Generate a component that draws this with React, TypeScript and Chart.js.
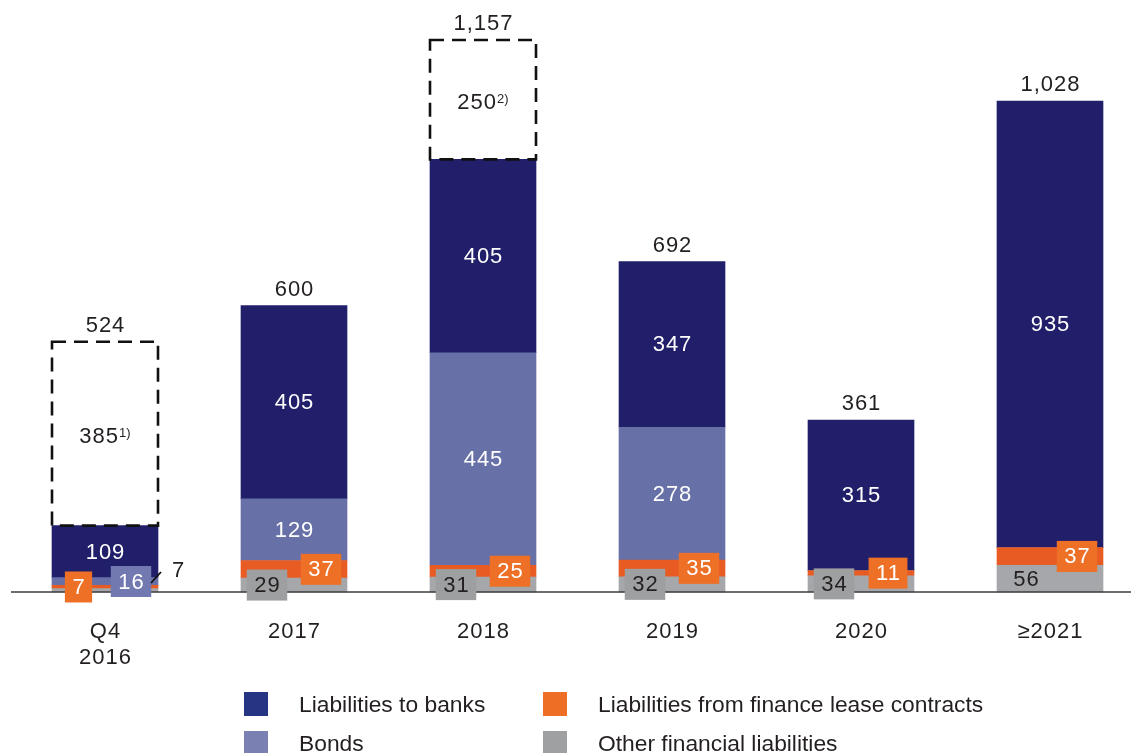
import React, { useEffect, useRef } from "react";
import { Chart, registerables } from "chart.js";

Chart.register(...registerables);

// ---- Data ----
const categories: (string | string[])[] = [["Q4", "2016"], "2017", "2018", "2019", "2020", "≥2021"];
const otherLiabilities = [7, 29, 31, 32, 34, 56];
const leaseLiabilities = [7, 37, 25, 35, 11, 37];
const bondValues = [16, 129, 445, 278, 0, 0];
const bankLiabilities = [109, 405, 405, 347, 315, 935];
const undrawnValues = [385, 0, 250, 0, 0, 0];
const undrawnNotes = ["1)", "", "2)", "", "", ""];
const totalLabels = ["524", "600", "1,157", "692", "361", "1,028"];
const seriesNames = [
  "Liabilities to banks",
  "Liabilities from finance lease contracts",
  "Bonds",
  "Other financial liabilities",
];

// ---- Styles ----
const FONT = '"Liberation Sans", Arial, Helvetica, sans-serif';
const TEXT_DARK = "#231f20";
const NAVY = "#211f69";
const BONDS = "#6770a7";
const LEASE = "#e85b23";
const OTHER = "#a6a7aa";
const LEASE_BOX = "#ee7027";
const OTHER_BOX = "#9d9fa0";
const BONDS_BOX = "#7179b0";
const LEGEND_COLORS = ["#263583", "#ee6e26", "#7a80b2", "#9ea0a1"];

function fmt(v: number) {
  return v.toLocaleString("en-US");
}

const labelPlugin = {
  id: "customLabels",
  afterDatasetsDraw(chart: any) {
    const ctx: any = chart.ctx;
    const area = chart.chartArea;
    const size = 22;
    ctx.save();

    // baseline
    ctx.strokeStyle = "#3c3c3c";
    ctx.lineWidth = 1.6;
    ctx.beginPath();
    ctx.moveTo(11, area.bottom);
    ctx.lineTo(chart.width, area.bottom);
    ctx.stroke();

    const setFont = (s: number) => {
      ctx.font = `${s}px ${FONT}`;
      ctx.letterSpacing = s >= 20 ? "1px" : "0px";
    };
    const text = (t: string, x: number, y: number, color: string, s = size) => {
      setFont(s);
      ctx.fillStyle = color;
      ctx.textAlign = "center";
      ctx.textBaseline = "middle";
      ctx.fillText(t, x + 0.5, y);
    };
    const box = (t: string, cx: number, cy: number, bg: string, fg: string) => {
      setFont(size);
      const w = ctx.measureText(t).width + 14;
      const h = 31;
      ctx.fillStyle = bg;
      ctx.fillRect(cx - w / 2, cy - h / 2, w, h);
      text(t, cx, cy + 1, fg);
    };
    const props = (ds: number, i: number) =>
      chart.getDatasetMeta(ds).data[i].getProps(["x", "y", "base", "width"], true);

    categories.forEach((cat, i) => {
      const o = props(0, i);
      const l = props(1, i);
      const b = props(2, i);
      const k = props(3, i);
      const u = props(4, i);
      const cx = o.x;

      // banks
      if (bankLiabilities[i] > 0) text(fmt(bankLiabilities[i]), cx, (k.y + k.base) / 2 + 1, "#ffffff");
      // bonds
      if (bondValues[i] >= 50) text(fmt(bondValues[i]), cx, (b.y + b.base) / 2 + 1, "#ffffff");
      else if (bondValues[i] > 0) box(fmt(bondValues[i]), cx + 26, (b.y + b.base) / 2, BONDS_BOX, "#ffffff");
      // lease
      if (leaseLiabilities[i] > 0)
        box(fmt(leaseLiabilities[i]), cx + (i === 0 ? -26.5 : 27), (l.y + l.base) / 2, LEASE_BOX, "#ffffff");
      // other
      const oh = o.base - o.y;
      if (i === 0) {
        ctx.strokeStyle = "#111";
        ctx.lineWidth = 1.8;
        ctx.beginPath();
        ctx.moveTo(cx + 46, 583);
        ctx.lineTo(cx + 56, 572);
        ctx.stroke();
        text(fmt(otherLiabilities[i]), cx + 73, 571, TEXT_DARK);
      } else if (oh > 25) {
        text(fmt(otherLiabilities[i]), cx - 24, (o.y + o.base) / 2 + 1, TEXT_DARK);
      } else {
        box(fmt(otherLiabilities[i]), cx - 27, (o.y + o.base) / 2, OTHER_BOX, TEXT_DARK);
      }

      // undrawn dashed box
      let top = k.y;
      if (undrawnValues[i] > 0) {
        const w = u.width;
        ctx.strokeStyle = "#111";
        ctx.lineWidth = 2.6;
        ctx.setLineDash([14, 8]);
        ctx.strokeRect(cx - w / 2, u.y, w, u.base - u.y);
        ctx.setLineDash([]);
        const main = fmt(undrawnValues[i]);
        const note = undrawnNotes[i];
        setFont(size);
        const mw = ctx.measureText(main).width;
        setFont(13);
        const nw = ctx.measureText(note).width;
        const startX = cx - (mw + nw) / 2;
        const my = (u.y + u.base) / 2 + 2;
        ctx.textAlign = "left";
        ctx.textBaseline = "middle";
        ctx.fillStyle = TEXT_DARK;
        setFont(size);
        ctx.fillText(main, startX, my + 1);
        setFont(13);
        ctx.fillText(note, startX + mw, my - 2);
        top = u.y;
      }

      // total
      text(totalLabels[i], cx, top - 16, TEXT_DARK);

      // category label
      const lines = Array.isArray(cat) ? cat : [cat];
      lines.forEach((ln, j) => text(ln, cx, 632 + j * 26, TEXT_DARK));
    });
    ctx.restore();
  },
};

export default function App() {
  const ref = useRef<HTMLCanvasElement | null>(null);

  useEffect(() => {
    if (!ref.current) return;
    const mk = (label: string, data: number[], color: string) => ({
      label,
      data,
      backgroundColor: color,
      borderWidth: 0,
      barThickness: 106,
      clip: false as any,
    });
    const chart = new Chart(ref.current, {
      type: "bar",
      data: {
        labels: categories as any,
        datasets: [
          mk(seriesNames[3], otherLiabilities, OTHER),
          mk(seriesNames[1], leaseLiabilities, LEASE),
          mk(seriesNames[2], bondValues, BONDS),
          mk(seriesNames[0], bankLiabilities, NAVY),
          mk("Undrawn", undrawnValues, "rgba(0,0,0,0)"),
        ],
      },
      options: {
        responsive: false,
        animation: false,
        layout: { padding: { left: 105, right: 81, top: 19, bottom: 161 } },
        plugins: { legend: { display: false }, tooltip: { enabled: false } },
        scales: {
          x: { stacked: true, display: false, offset: false, grid: { offset: false } },
          y: { stacked: true, display: false, min: 0, max: 1200 },
        },
      },
      plugins: [labelPlugin],
    });
    return () => chart.destroy();
  }, []);

  const legendPos = [
    [244, 692],
    [543, 692],
    [244, 731],
    [543, 731],
  ];
  const legendOrder = [0, 1, 2, 3];

  return (
    <div style={{ position: "absolute", left: 0, top: 0, width: 1131, height: 753, overflow: "hidden", background: "#fff" }}>
      <canvas ref={ref} width={1131} height={753} style={{ display: "block" }} />
      {legendOrder.map((idx, n) => (
        <div key={idx}>
          <div
            style={{
              position: "absolute",
              left: legendPos[n][0],
              top: legendPos[n][1],
              width: 24,
              height: 24,
              background: LEGEND_COLORS[idx],
            }}
          />
          <div
            style={{
              position: "absolute",
              left: legendPos[n][0] + 55,
              top: legendPos[n][1],
              height: 24,
              lineHeight: "24px",
              fontFamily: FONT,
              fontSize: 22.8,
              color: TEXT_DARK,
              whiteSpace: "nowrap",
            }}
          >
            {seriesNames[idx]}
          </div>
        </div>
      ))}
    </div>
  );
}
